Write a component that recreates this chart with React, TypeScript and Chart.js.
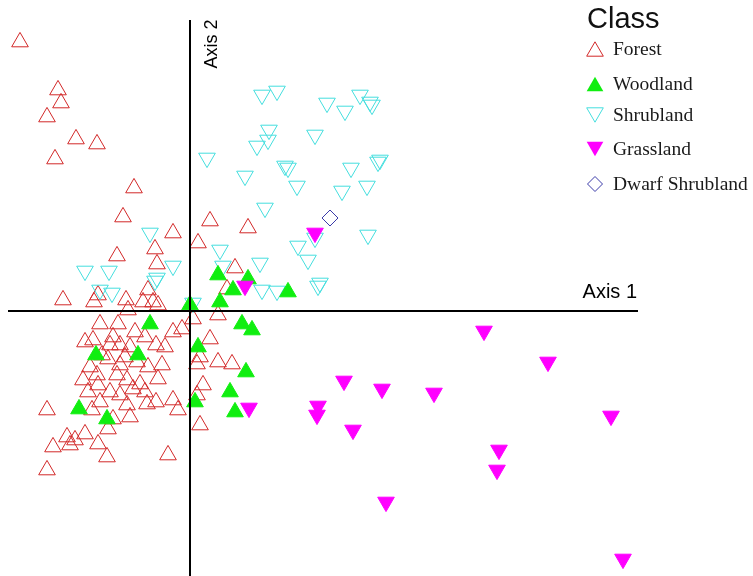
import React, { useEffect, useRef } from "react";
import { Chart, registerables } from "chart.js";

Chart.register(...registerables);

// Site scores on the first two ordination axes, grouped by vegetation class
const forestX = [
  -1.70, -1.32, -1.29, -1.43, -1.14, -0.93, -1.35, -0.56, -0.67, -0.73, -0.17, 0.20, 0.58, 0.08, 0.45, 0.37,
  -0.35, -0.33, -1.27, -0.96, -0.92, -0.64, -0.42, -0.47, -0.37, -0.32, -0.62, -0.90, -0.72, -0.55, -0.17, -0.08,
  -1.05, -0.97, -0.80, -0.70, -0.60, -0.34, -0.88, -0.82, -0.70, -0.53, -0.42, -0.28, -1.07, -0.93, -0.92, -0.73,
  -0.80, -0.63, -0.50, -0.32, -0.57, -0.70, -0.90, -0.43, -0.34, -0.63, -0.17, -0.12, -1.43, -0.98, -0.77, -0.82,
  -1.05, -1.23, -1.15, -1.20, -1.37, -0.92, -0.83, -0.22, -1.43, 0.10, 0.03, 0.28, 0.20, 0.10, 0.07, 0.28,
  0.42, 0.13, 0.07, -0.77, -0.45, -0.65, -1.00, -0.45, -0.60, -1.02, -0.25,
];
const forestY = [
  2.69, 2.21, 2.08, 1.94, 1.72, 1.67, 1.52, 1.23, 0.94, 0.55, 0.78, 0.90, 0.83, 0.68, 0.43, 0.22,
  0.62, 0.47, 0.11, 0.09, 0.16, 0.11, 0.21, 0.09, 0.09, 0.06, 0.01, -0.13, -0.13, -0.21, -0.21, -0.18,
  -0.31, -0.29, -0.34, -0.34, -0.36, -0.34, -0.44, -0.48, -0.54, -0.51, -0.56, -0.54, -0.69, -0.64, -0.74, -0.64,
  -0.81, -0.69, -0.73, -0.68, -0.78, -0.84, -0.91, -0.93, -0.91, -0.94, -0.89, -0.99, -0.99, -0.99, -1.08, -1.18,
  -1.23, -1.26, -1.29, -1.34, -1.36, -1.33, -1.46, -1.44, -1.59, -1.14, -0.08, -0.04, -0.28, -0.46, -0.53, -0.51,
  -0.53, -0.74, -0.84, -0.26, -0.26, -0.46, -0.56, -0.81, -1.06, -0.81, -0.36,
];

const woodlandX = [0.28, 0.43, 0.58, 0.98, 0.30, 0.00, -0.40, 0.52, 0.62, 0.08, -0.94, -0.52, 0.56, 0.40, 0.05, 0.45, -1.11, -0.83];
const woodlandY = [0.36, 0.21, 0.32, 0.19, 0.09, 0.06, -0.13, -0.13, -0.19, -0.36, -0.44, -0.44, -0.61, -0.81, -0.91, -1.01, -0.98, -1.08];

const shrublandX = [
  0.72, 0.87, 1.37, 1.55, 1.70, 1.82, 1.80, 0.79, 0.78, 0.67, 1.25, 0.17, 0.55, 0.95, 0.98, 1.61,
  1.90, 1.88, 1.07, 1.52, 1.77, 0.75, 1.08, 1.18, 1.25, 1.78, 0.30, 0.33, 0.70, 0.72, 0.87, 1.30,
  1.28, -0.40, -0.17, -1.05, -0.81, -0.33, -0.35, -0.90, -0.78, 0.03,
];
const shrublandY = [
  2.16, 2.20, 2.08, 2.00, 2.16, 2.06, 2.09, 1.81, 1.71, 1.65, 1.76, 1.53, 1.35, 1.45, 1.43, 1.43,
  1.51, 1.49, 1.25, 1.20, 1.25, 1.03, 0.65, 0.51, 0.73, 0.76, 0.61, 0.45, 0.48, 0.21, 0.20, 0.28,
  0.25, 0.78, 0.45, 0.40, 0.40, 0.33, 0.30, 0.21, 0.18, 0.08,
];

const grasslandX = [2.94, 3.58, 1.54, 1.92, 2.44, 1.28, 1.27, 1.63, 4.21, 3.09, 3.07, 1.96, 4.33, 0.59, 0.55, 1.25];
const grasslandY = [-0.20, -0.51, -0.70, -0.78, -0.82, -0.95, -1.04, -1.19, -1.05, -1.39, -1.59, -1.91, -2.48, -0.97, 0.25, 0.78];

const dwarfX = [1.40];
const dwarfY = [0.93];

const classNames = ["Forest", "Woodland", "Shrubland", "Grassland", "Dwarf Shrubland"];
const axisTitles = ["Axis 1", "Axis 2"];

const toPoints = (xs: number[], ys: number[]) => xs.map((x, i) => ({ x, y: ys[i] }));

const RED = "rgb(210,40,40)";
const GREEN = "#10ee10";
const CYAN = "#44dede";
const MAGENTA = "#ff00ff";
const NAVY = "#3a3aa8";
const MARK_R = 9.6;

type Marker = { shape: "up" | "down" | "diamond"; fill: boolean; color: string };
const markers: Marker[] = [
  { shape: "up", fill: false, color: RED },
  { shape: "up", fill: true, color: GREEN },
  { shape: "down", fill: false, color: CYAN },
  { shape: "down", fill: true, color: MAGENTA },
  { shape: "diamond", fill: false, color: NAVY },
];

function drawMarker(ctx: CanvasRenderingContext2D, m: Marker, cx: number, cy: number) {
  const r = MARK_R;
  ctx.save();
  ctx.beginPath();
  if (m.shape === "diamond") {
    const d = 7.5;
    ctx.moveTo(cx, cy - d);
    ctx.lineTo(cx + d, cy);
    ctx.lineTo(cx, cy + d);
    ctx.lineTo(cx - d, cy);
  } else {
    const s = m.shape === "up" ? 1 : -1;
    const h = r * Math.sin(Math.PI / 3);
    const yc = cy + (s * r) / 4;
    ctx.moveTo(cx, yc - s * r);
    ctx.lineTo(cx + h, yc + (s * r) / 2);
    ctx.lineTo(cx - h, yc + (s * r) / 2);
  }
  ctx.closePath();
  if (m.fill) {
    ctx.fillStyle = m.color;
    ctx.fill();
  } else {
    ctx.strokeStyle = m.color;
    ctx.lineWidth = 1;
    ctx.stroke();
  }
  ctx.restore();
}

// Crossing axes through the origin, axis titles and the class key
const overlayPlugin = {
  id: "ordinationOverlay",
  afterDatasetsDraw(chart: any) {
    const { ctx, scales } = chart;
    const ox = scales.x.getPixelForValue(0);
    const oy = scales.y.getPixelForValue(0);
    ctx.save();
    ctx.strokeStyle = "#000";
    ctx.lineWidth = 2;
    ctx.beginPath();
    ctx.moveTo(8, oy);
    ctx.lineTo(638, oy);
    ctx.moveTo(ox, 20);
    ctx.lineTo(ox, chart.height);
    ctx.stroke();

    ctx.fillStyle = "#000";
    ctx.font = "20px 'Liberation Sans', Arial, sans-serif";
    ctx.textAlign = "right";
    ctx.textBaseline = "alphabetic";
    ctx.fillText(axisTitles[0], 637, 298);

    ctx.save();
    ctx.translate(ox + 27, 44);
    ctx.rotate(-Math.PI / 2);
    ctx.textAlign = "center";
    ctx.font = "18px 'Liberation Sans', Arial, sans-serif";
    ctx.fillText(axisTitles[1], 0, 0);
    ctx.restore();

    // class key
    ctx.fillStyle = "#111";
    ctx.textAlign = "left";
    ctx.font = "29px 'Liberation Sans', Arial, sans-serif";
    ctx.fillText("Class", 587, 28);
    const rows = [49, 84, 115, 149, 184];
    ctx.font = "19.5px 'Liberation Serif', 'Times New Roman', serif";
    ctx.textBaseline = "middle";
    classNames.forEach((name, i) => {
      drawMarker(ctx, markers[i], 595, rows[i]);
      ctx.fillStyle = "#1a1a1a";
      ctx.fillText(name, 613, rows[i] + 1);
    });
    ctx.restore();
  },
};

export default function App() {
  const canvasRef = useRef<HTMLCanvasElement | null>(null);

  useEffect(() => {
    const canvas = canvasRef.current;
    if (!canvas) return;
    const common = { radius: MARK_R, hoverRadius: MARK_R, borderWidth: 1 };
    const chart = new Chart(canvas, {
      type: "scatter",
      data: {
        datasets: [
          {
            label: classNames[4],
            data: toPoints(dwarfX, dwarfY),
            pointStyle: "rectRot",
            ...common,
            radius: 8,
            hoverRadius: 8,
            borderColor: NAVY,
            backgroundColor: "rgba(0,0,0,0)",
            order: 1,
          },
          {
            label: classNames[3],
            data: toPoints(grasslandX, grasslandY),
            pointStyle: "triangle",
            rotation: 180,
            ...common,
            borderColor: MAGENTA,
            backgroundColor: MAGENTA,
            order: 2,
          },
          {
            label: classNames[1],
            data: toPoints(woodlandX, woodlandY),
            pointStyle: "triangle",
            ...common,
            borderColor: GREEN,
            backgroundColor: GREEN,
            order: 3,
          },
          {
            label: classNames[2],
            data: toPoints(shrublandX, shrublandY),
            pointStyle: "triangle",
            rotation: 180,
            ...common,
            borderColor: CYAN,
            backgroundColor: "rgba(0,0,0,0)",
            order: 4,
          },
          {
            label: classNames[0],
            data: toPoints(forestX, forestY),
            pointStyle: "triangle",
            ...common,
            borderColor: RED,
            backgroundColor: "rgba(0,0,0,0)",
            order: 5,
          },
        ],
      },
      options: {
        responsive: false,
        animation: false,
        layout: { padding: 0, autoPadding: false },
        scales: {
          x: { type: "linear", display: false, min: -1.9, max: 5.63 },
          y: { type: "linear", display: false, min: -2.65, max: 3.11 },
        },
        plugins: {
          legend: { display: false },
          tooltip: { enabled: false },
        },
      },
      plugins: [overlayPlugin],
    });
    return () => chart.destroy();
  }, []);

  return (
    <div style={{ position: "absolute", left: 0, top: 0, width: 753, height: 576, background: "#fff" }}>
      <canvas ref={canvasRef} width={753} height={576} />
    </div>
  );
}
